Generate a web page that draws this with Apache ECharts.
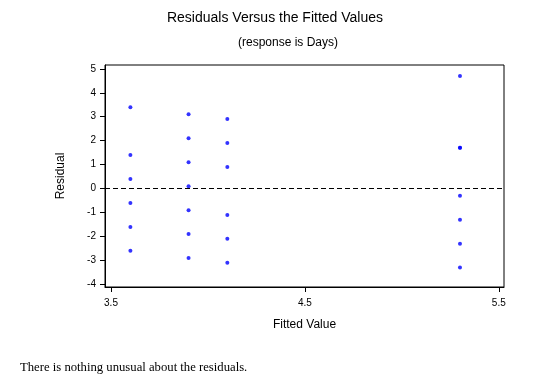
<!DOCTYPE html>
<html><head><meta charset="utf-8">
<script src="https://cdn.jsdelivr.net/npm/echarts@6/dist/echarts.min.js"></script>
<style>html,body{margin:0;padding:0;background:#fff}#c{width:538px;height:382px}</style>
</head><body><div id="c"></div>
<script>
const fittedValues = [3.6, 3.9, 4.1, 5.3];
const residualsAt36 = [3.4, 1.4, 0.4, -0.6, -1.6, -2.6];
const residualsAt39 = [3.1, 2.1, 1.1, 0.1, -0.9, -1.9, -2.9];
const residualsAt41 = [2.9, 1.9, 0.9, -1.1, -2.1, -3.1];
const residualsAt53 = [4.7, 1.7, 1.7, -0.3, -1.3, -2.3, -3.3];
const xTicks = [3.5, 4.5, 5.5];
const yTicks = [-4, -3, -2, -1, 0, 1, 2, 3, 4, 5];

const groups = [residualsAt36, residualsAt39, residualsAt41, residualsAt53];
const points = [];
groups.forEach((g, i) => g.forEach(r => points.push([fittedValues[i], r])));

const chart = echarts.init(document.getElementById('c'), null, {renderer: 'canvas'});
const font = 'Arial, "Liberation Sans", sans-serif';
chart.setOption({
  animation: false,
  backgroundColor: '#fff',
  title: [
    {text: 'Residuals Versus the Fitted Values', left: 275, top: 11, padding: 0, textAlign: 'center',
     textStyle: {fontFamily: font, fontSize: 14, fontWeight: 'normal', color: '#000'}},
    {text: '(response is Days)', left: 288, top: 37, padding: 0, textAlign: 'center',
     textStyle: {fontFamily: font, fontSize: 12, fontWeight: 'normal', color: '#000'}},
    {text: 'There is nothing unusual about the residuals.', left: 20, top: 361, padding: 0,
     textStyle: {fontFamily: '"Liberation Serif", "Times New Roman", serif', fontSize: 12.7, fontWeight: 'normal', color: '#000'}}
  ],
  grid: {left: 105, right: 34, top: 65, bottom: 95, show: true, borderColor: '#000', borderWidth: 1, backgroundColor: 'transparent'},
  xAxis: {
    type: 'value', min: 3.469, max: 5.527,
    name: 'Fitted Value', nameLocation: 'middle', nameGap: 32,
    nameTextStyle: {fontFamily: font, fontSize: 12, color: '#000'},
    axisLine: {show: true, onZero: false, lineStyle: {color: '#000', width: 1}},
    axisTick: {show: true, customValues: xTicks, length: 5, lineStyle: {color: '#000'}},
    axisLabel: {customValues: xTicks, fontFamily: font, fontSize: 10, color: '#000', margin: 11,
      formatter: v => v.toFixed(1)},
    splitLine: {show: false}
  },
  yAxis: {
    type: 'value', min: -4.11, max: 5.16,
    name: 'Residual', nameLocation: 'middle', nameGap: 38, nameRotate: 90,
    nameTextStyle: {fontFamily: font, fontSize: 12, color: '#000'},
    axisLine: {show: true, onZero: false, lineStyle: {color: '#000', width: 1}},
    axisTick: {show: true, customValues: yTicks, length: 5, lineStyle: {color: '#000'}},
    axisLabel: {customValues: yTicks, fontFamily: font, fontSize: 10, color: '#000', margin: 9},
    splitLine: {show: false}
  },
  series: [{
    type: 'scatter', data: points, symbol: 'circle', symbolSize: 4,
    itemStyle: {color: '#0000ff'},
    markLine: {
      silent: true, symbol: 'none', label: {show: false},
      lineStyle: {color: '#000', type: [5, 3], width: 1},
      data: [{yAxis: 0}]
    }
  }]
});
</script></body></html>
